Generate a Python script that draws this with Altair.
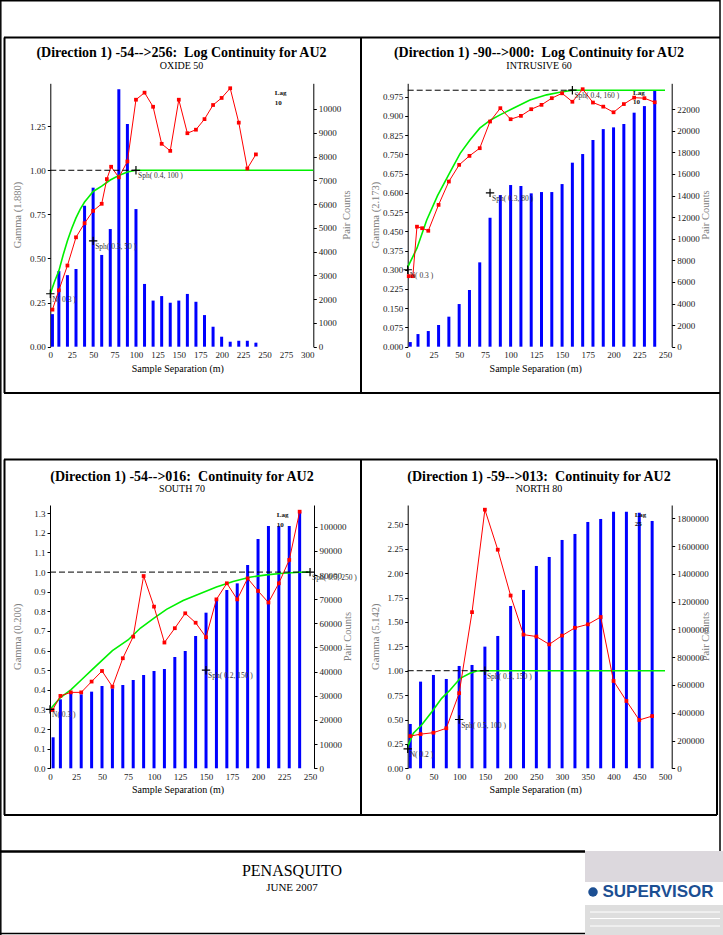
import altair as alt
import pandas as pd

W, H = 723, 935
SERIF = "Liberation Serif"

# ---------------- Panel 1 : OXIDE 50 ----------------
p1_bar_lag = [2.5, 10, 20, 30, 40, 50, 60, 70, 80, 90, 100, 110, 120, 130, 140, 150, 160, 170, 180, 190, 200, 210, 220, 230, 240]
p1_pairs = [1370, 3180, 3010, 3270, 5930, 6690, 3860, 4950, 10830, 9370, 5790, 2640, 1940, 2130, 1850, 1940, 2220, 1890, 1330, 840, 420, 210, 250, 250, 170]
p1_exp_lag = [2.5, 10, 20, 30, 40, 50, 60, 66, 71, 80, 90, 100, 110, 120, 130, 140, 150, 160, 170, 180, 190, 200, 210, 220, 230, 240]
p1_exp = [0.21, 0.32, 0.46, 0.62, 0.70, 0.77, 0.81, 0.95, 1.02, 0.96, 1.05, 1.40, 1.44, 1.36, 1.15, 1.11, 1.40, 1.21, 1.23, 1.29, 1.37, 1.41, 1.465, 1.27, 1.01, 1.09]
p1_mod_lag = [0, 5, 10, 15, 20, 25, 30, 35, 40, 45, 50, 60, 70, 80, 90, 100, 307]
p1_mod = [0.30, 0.37, 0.43, 0.52, 0.60, 0.67, 0.73, 0.78, 0.82, 0.85, 0.88, 0.91, 0.945, 0.97, 0.99, 1.0, 1.0]
p1_cross_lag = [0, 50, 100]
p1_cross_g = [0.3, 0.6, 1.0]
p1_cross_txt = ["N( 0.3 )", "Sph( 0.3, 50 )", "Sph( 0.4, 100 )"]
p1_note = ["Lag", "10"]
p1_note_lag = [262, 262]
p1_note_g = [1.44, 1.38]
p1_xticks = [0, 25, 50, 75, 100, 125, 150, 175, 200, 225, 250, 275, 300]
p1_gticks = [0.0, 0.25, 0.5, 0.75, 1.0, 1.25]
p1_pticks = [0, 1000, 2000, 3000, 4000, 5000, 6000, 7000, 8000, 9000, 10000]

# ---------------- Panel 2 : INTRUSIVE 60 ----------------
p2_bar_lag = [2.5, 10, 20, 30, 40, 50, 60, 70, 80, 90, 100, 110, 120, 130, 140, 150, 160, 170, 180, 190, 200, 210, 220, 230, 240]
p2_pairs = [430, 1170, 1450, 2010, 2780, 3950, 5250, 7810, 11940, 14040, 14970, 14880, 14200, 14320, 14320, 15060, 17040, 17840, 19140, 20150, 20310, 20620, 21670, 22280, 23770]
p2_exp_lag = [1, 5, 9, 14, 20, 30, 40, 50, 60, 70, 80, 90, 100, 110, 120, 130, 140, 150, 160, 170, 180, 190, 200, 210, 220, 230, 240]
p2_exp = [0.275, 0.275, 0.468, 0.462, 0.452, 0.553, 0.644, 0.709, 0.744, 0.774, 0.878, 0.930, 0.887, 0.900, 0.926, 0.943, 0.969, 0.988, 0.955, 1.004, 0.952, 0.936, 0.914, 0.946, 0.971, 0.969, 0.953]
p2_mod_lag = [0, 9, 18.5, 29, 40.5, 51, 60.5, 70, 80.6, 89.7, 102.6, 118.8, 135, 148, 160, 250]
p2_mod = [0.31, 0.384, 0.494, 0.589, 0.676, 0.754, 0.806, 0.852, 0.884, 0.904, 0.930, 0.962, 0.982, 0.992, 1.0, 1.0]
p2_cross_lag = [0, 80, 160]
p2_cross_g = [0.3, 0.6, 1.0]
p2_cross_txt = ["N( 0.3 )", "Sph( 0.3, 80 )", "Sph( 0.4, 160 )"]
p2_note = ["Lag", "10"]
p2_note_lag = [219, 219]
p2_note_g = [0.99, 0.955]
p2_xticks = [0, 25, 50, 75, 100, 125, 150, 175, 200, 225, 250]
p2_gticks = [0.0, 0.075, 0.15, 0.225, 0.3, 0.375, 0.45, 0.525, 0.6, 0.675, 0.75, 0.825, 0.9, 0.975]
p2_pticks = [0, 2000, 4000, 6000, 8000, 10000, 12000, 14000, 16000, 18000, 20000, 22000]

# ---------------- Panel 3 : SOUTH 70 ----------------
p3_bar_lag = [3, 10, 20, 30, 40, 50, 60, 70, 80, 90, 100, 110, 120, 130, 140, 150, 160, 170, 180, 190, 200, 210, 220, 230, 240]
p3_pairs = [12830, 28550, 31450, 30620, 31720, 34070, 33100, 34480, 36550, 38620, 40280, 41100, 46070, 48550, 54760, 64410, 69930, 73790, 76550, 84140, 94900, 100280, 100280, 100280, 106210]
p3_exp_lag = [2.5, 10, 20, 30, 40, 50, 60, 70, 80, 90, 100, 110, 120, 130, 140, 150, 160, 170, 180, 190, 200, 210, 220, 230, 240]
p3_exp = [0.297, 0.369, 0.387, 0.387, 0.442, 0.496, 0.416, 0.561, 0.671, 0.98, 0.824, 0.641, 0.714, 0.79, 0.742, 0.668, 0.861, 0.943, 0.861, 0.968, 0.904, 0.845, 0.943, 1.062, 1.308]
p3_mod_lag = [0, 10, 20, 30, 40, 50, 60, 75, 87, 100, 112, 128, 144, 160, 176, 192, 208, 224, 240, 250]
p3_mod = [0.30, 0.36, 0.40, 0.45, 0.50, 0.55, 0.60, 0.654, 0.715, 0.765, 0.81, 0.855, 0.89, 0.924, 0.952, 0.974, 0.986, 0.994, 0.999, 1.0]
p3_cross_lag = [0, 150, 250]
p3_cross_g = [0.3, 0.5, 1.0]
p3_cross_txt = ["N( 0.3 )", "Sph( 0.2, 150 )", "Sph( 0.5, 250 )"]
p3_note = ["Lag", "10"]
p3_note_lag = [218, 218]
p3_note_g = [1.29, 1.24]
p3_xticks = [0, 25, 50, 75, 100, 125, 150, 175, 200, 225, 250]
p3_gticks = [0.0, 0.1, 0.2, 0.3, 0.4, 0.5, 0.6, 0.7, 0.8, 0.9, 1.0, 1.1, 1.2, 1.3]
p3_pticks = [0, 10000, 20000, 30000, 40000, 50000, 60000, 70000, 80000, 90000, 100000]

# ---------------- Panel 4 : NORTH 80 ----------------
p4_bar_lag = [5, 25, 50, 75, 100, 125, 150, 175, 200, 225, 250, 275, 300, 325, 350, 375, 400, 425, 450, 475]
p4_pairs = [319200, 624000, 672000, 643200, 736800, 744000, 876000, 952800, 1168800, 1284000, 1456800, 1521600, 1644000, 1687200, 1773600, 1795200, 1848000, 1848000, 1840800, 1780800]
p4_exp_lag = [5, 25, 50, 75, 100, 125, 150, 175, 200, 225, 250, 275, 300, 325, 350, 375, 400, 425, 450, 475]
p4_exp = [0.33, 0.35, 0.365, 0.41, 0.77, 1.60, 2.65, 2.24, 1.77, 1.37, 1.35, 1.27, 1.36, 1.44, 1.475, 1.55, 0.895, 0.69, 0.495, 0.535]
p4_mod_lag = [0, 11, 27, 47, 66, 82, 102, 121, 134, 150, 500]
p4_mod = [0.222, 0.359, 0.444, 0.58, 0.717, 0.80, 0.922, 0.973, 0.997, 1.0, 1.0]
p4_cross_lag = [0, 100, 150]
p4_cross_g = [0.2, 0.5, 1.0]
p4_cross_txt = ["N( 0.2 )", "Sph( 0.5, 100 )", "Sph( 0.3, 150 )"]
p4_note = ["Lag", "25"]
p4_note_lag = [441, 441]
p4_note_g = [2.595, 2.50]
p4_xticks = [0, 50, 100, 150, 200, 250, 300, 350, 400, 450, 500]
p4_gticks = [0.0, 0.25, 0.5, 0.75, 1.0, 1.25, 1.5, 1.75, 2.0, 2.25, 2.5]
p4_pticks = [0, 200000, 400000, 600000, 800000, 1000000, 1200000, 1400000, 1600000, 1800000]

NB = "\u00a0"
panels = [
    dict(title="(Direction 1) -54-->256:" + NB + " Log Continuity for AU2", sub="OXIDE 50", gname="Gamma (1.880)",
         xl=50.3, xr=313.3, yb=346.7, yt=83.3, xmax=307, gmax=1.493, pmax=11081, gfmt=".2f",
         bl=p1_bar_lag, bp=p1_pairs, el=p1_exp_lag, ev=p1_exp, ml=p1_mod_lag, mv=p1_mod,
         cl=p1_cross_lag, cg=p1_cross_g, ct=p1_cross_txt, nt=p1_note, nl=p1_note_lag, ng=p1_note_g,
         xt=p1_xticks, gt=p1_gticks, pt=p1_pticks, cx=181.5, ty=53, sy=66),
    dict(title="(Direction 1) -90-->000:" + NB + " Log Continuity for AU2", sub="INTRUSIVE 60", gname="Gamma (2.173)",
         xl=407.7, xr=671.7, yb=346.7, yt=83.3, xmax=256.5, gmax=1.027, pmax=24390, gfmt=".3f",
         bl=p2_bar_lag, bp=p2_pairs, el=p2_exp_lag, ev=p2_exp, ml=p2_mod_lag, mv=p2_mod,
         cl=p2_cross_lag, cg=p2_cross_g, ct=p2_cross_txt, nt=p2_note, nl=p2_note_lag, ng=p2_note_g,
         xt=p2_xticks, gt=p2_gticks, pt=p2_pticks, cx=539, ty=53, sy=66),
    dict(title="(Direction 1) -54-->016:" + NB + " Continuity for AU2", sub="SOUTH 70", gname="Gamma (0.200)",
         xl=50.0, xr=314.0, yb=768.3, yt=505.0, xmax=253.8, gmax=1.342, pmax=108980, gfmt=".1f",
         bl=p3_bar_lag, bp=p3_pairs, el=p3_exp_lag, ev=p3_exp, ml=p3_mod_lag, mv=p3_mod,
         cl=p3_cross_lag, cg=p3_cross_g, ct=p3_cross_txt, nt=p3_note, nl=p3_note_lag, ng=p3_note_g,
         xt=p3_xticks, gt=p3_gticks, pt=p3_pticks, cx=182, ty=477, sy=489),
    dict(title="(Direction 1) -59-->013:" + NB + " Continuity for AU2", sub="NORTH 80", gname="Gamma (5.142)",
         xl=407.7, xr=671.7, yb=768.3, yt=505.0, xmax=513, gmax=2.698, pmax=1895760, gfmt=".2f",
         bl=p4_bar_lag, bp=p4_pairs, el=p4_exp_lag, ev=p4_exp, ml=p4_mod_lag, mv=p4_mod,
         cl=p4_cross_lag, cg=p4_cross_g, ct=p4_cross_txt, nt=p4_note, nl=p4_note_lag, ng=p4_note_g,
         xt=p4_xticks, gt=p4_gticks, pt=p4_pticks, cx=539, ty=477, sy=489),
]

one = pd.DataFrame({"k": [0]})


def hline(x1, x2, y, w=2.0, color="black"):
    return alt.Chart(one).mark_rule(color=color, strokeWidth=w).encode(
        x=alt.value(x1), x2=alt.value(x2), y=alt.value(y))


def vline(x, y1, y2, w=2.0, color="black"):
    return alt.Chart(one).mark_rule(color=color, strokeWidth=w).encode(
        x=alt.value(x), y=alt.value(y1), y2=alt.value(y2))


def txt(s, x, y, size, weight="normal", color="black", angle=0, font=SERIF, align="center"):
    return alt.Chart(one).mark_text(text=s, fontSize=size, fontWeight=weight, color=color,
                                    angle=angle, font=font, align=align, baseline="middle").encode(
        x=alt.value(x), y=alt.value(y))


def rect(x1, x2, y1, y2, color):
    return alt.Chart(one).mark_rect(color=color).encode(
        x=alt.value(x1), x2=alt.value(x2), y=alt.value(y1), y2=alt.value(y2))


axis_font = dict(labelFont=SERIF, labelFontSize=9, labelColor="#222222", grid=False,
                 labelOverlap=False, labelFlush=False, title=None)


def panel(c):
    xs = alt.Scale(domain=[0, c["xmax"]], range=[c["xl"], c["xr"]], nice=False, zero=False)
    gs = alt.Scale(domain=[0, c["gmax"]], range=[c["yb"], c["yt"]], nice=False, zero=False)
    ps = alt.Scale(domain=[0, c["pmax"]], range=[c["yb"], c["yt"]], nice=False, zero=False)
    xaxis = alt.Axis(orient="bottom", offset=c["yb"] - H, values=c["xt"], format="d",
                     domain=False, ticks=False, labelPadding=4, **axis_font)
    laxis = alt.Axis(orient="left", offset=-c["xl"], values=c["gt"], format=c["gfmt"],
                     domain=True, domainColor="black", domainWidth=1, ticks=True, tickSize=3,
                     tickColor="black", labelPadding=2, **axis_font)
    raxis = alt.Axis(orient="right", offset=c["xr"] - W, values=c["pt"], format="d",
                     domain=True, domainColor="black", domainWidth=1, ticks=True, tickSize=3,
                     tickColor="black", labelPadding=2, **axis_font)

    bars = alt.Chart(pd.DataFrame({"lag": c["bl"], "pairs": c["bp"]})).mark_rule(
        color="#0000ff", strokeWidth=3).encode(
        x=alt.X("lag:Q", scale=xs, axis=xaxis),
        y=alt.Y("pairs:Q", scale=ps, axis=raxis),
        y2=alt.datum(0))

    mdf = pd.DataFrame({"lag": c["ml"], "g": c["mv"]})
    model = alt.Chart(mdf).mark_line(color="#00f000", strokeWidth=1.6).encode(
        x=alt.X("lag:Q", scale=xs, axis=None),
        y=alt.Y("g:Q", scale=gs, axis=laxis))

    edf = pd.DataFrame({"lag": c["el"], "g": c["ev"]})
    exp_line = alt.Chart(edf).mark_line(color="#ff0000", strokeWidth=1).encode(
        x=alt.X("lag:Q", scale=xs, axis=None),
        y=alt.Y("g:Q", scale=gs, axis=None))
    exp_pts = alt.Chart(edf).mark_point(shape="square", filled=True, size=14, color="#ff0000", opacity=1).encode(
        x=alt.X("lag:Q", scale=xs, axis=None),
        y=alt.Y("g:Q", scale=gs, axis=None))

    sill = alt.Chart(pd.DataFrame({"a": [0], "b": [c["cl"][-1]], "g": [1.0]})).mark_rule(
        color="black", strokeWidth=1, strokeDash=[6, 3]).encode(
        x=alt.X("a:Q", scale=xs, axis=None), x2="b:Q",
        y=alt.Y("g:Q", scale=gs, axis=None))

    cdf = pd.DataFrame({"lag": c["cl"], "g": c["cg"], "t": c["ct"]})
    crosses = alt.Chart(cdf).mark_point(shape="M-1,0L1,0M0,-1L0,1", size=70, color="black",
                                        strokeWidth=1.2, opacity=1).encode(
        x=alt.X("lag:Q", scale=xs, axis=None),
        y=alt.Y("g:Q", scale=gs, axis=None))
    clab = alt.Chart(cdf).mark_text(align="left", baseline="middle", dx=2, dy=6, fontSize=7.5,
                                    font=SERIF, color="#333333").encode(
        x=alt.X("lag:Q", scale=xs, axis=None),
        y=alt.Y("g:Q", scale=gs, axis=None),
        text="t:N")

    ndf = pd.DataFrame({"lag": c["nl"], "g": c["ng"], "t": c["nt"]})
    note = alt.Chart(ndf).mark_text(align="left", baseline="middle", fontSize=7, fontWeight="bold",
                                    font=SERIF, color="#111111").encode(
        x=alt.X("lag:Q", scale=xs, axis=None),
        y=alt.Y("g:Q", scale=gs, axis=None),
        text="t:N")

    ymid = (c["yb"] + c["yt"]) / 2
    deco = [
        txt(c["title"], c["cx"], c["ty"], 14, weight="bold"),
        txt(c["sub"], c["cx"], c["sy"], 10),
        txt("Sample Separation (m)", (c["xl"] + c["xr"]) / 2 - 4, c["yb"] + 22, 10),
        txt(c["gname"], c["xl"] - 32, ymid, 10.5, color="#808080", angle=270),
        txt("Pair Counts", c["xr"] + 34, ymid, 10.5, color="#808080", angle=270),
    ]
    return [bars, model, exp_line, exp_pts, sill, crosses, clab, note] + deco


frame = [
    hline(0, 720, 0.8, 1.5), vline(0.8, 0, 935, 1.5), vline(720, 0, 851, 1.5), hline(0, 585, 933.5, 1.5),
    # top row boxes
    hline(4, 720, 37.5), hline(4, 720, 393), vline(4.5, 37.5, 393), vline(361, 37.5, 393),
    # bottom row boxes
    hline(4, 717, 459.5), hline(4, 717, 815), vline(4.5, 459.5, 815), vline(361, 459.5, 815), vline(717, 459.5, 815),
    # footer
    hline(0, 585, 851.5, 2.5),
    txt("PENASQUITO", 292, 871, 16),
    txt("JUNE 2007", 292, 888, 11),
    rect(585, 723, 851, 882, "#dcd8dd"),
    rect(585, 723, 905, 935, "#dedede"),
    hline(590, 720, 912, 1, "white"), hline(590, 720, 918.5, 1, "white"), hline(590, 720, 926, 1, "white"),
    alt.Chart(one).mark_point(shape="circle", filled=True, size=90, color="#1c4f93", opacity=1).encode(
        x=alt.value(593), y=alt.value(892)),
    txt("SUPERVISOR", 658, 892, 17, weight="bold", color="#1c4f93", font="Liberation Sans"),
]

layers = list(frame)
for c in panels:
    layers += panel(c)

chart = alt.layer(*layers).properties(
    width=W, height=H, padding=0, background="white",
    autosize=alt.AutoSizeParams(type="none"),
).resolve_scale(x="independent", y="independent").configure_view(strokeWidth=0)

chart.save("out.html", embed_options={"renderer": "svg", "actions": False})
